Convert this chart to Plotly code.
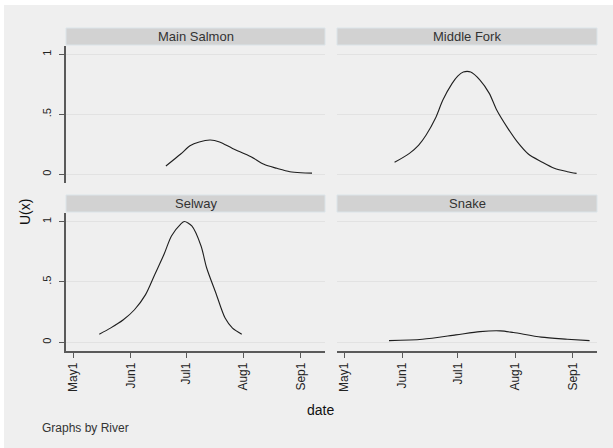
import datetime as dt
import plotly.graph_objects as go

# ---- data (days after May 1, value U(x)) ----
rivers = ["Main Salmon", "Middle Fork", "Selway", "Snake"]

main_salmon_days = [50, 58, 63, 68, 74, 79, 86, 96, 103, 110, 117, 123, 129]
main_salmon_u = [0.069, 0.169, 0.238, 0.270, 0.286, 0.270, 0.216, 0.147, 0.083, 0.050, 0.022, 0.013, 0.010]

middle_fork_days = [27, 35, 40, 44, 49, 53, 58, 61, 64, 68, 73, 78, 82, 88, 93, 99, 106, 113, 120, 125]
middle_fork_u = [0.100, 0.175, 0.244, 0.328, 0.467, 0.619, 0.758, 0.819, 0.853, 0.853, 0.786, 0.675,
                 0.536, 0.383, 0.272, 0.169, 0.105, 0.050, 0.022, 0.008]

selway_days = [14, 20, 27, 33, 39, 44, 49, 53, 58, 60, 64, 69, 72, 77, 82, 86, 91]
selway_u = [0.067, 0.117, 0.186, 0.269, 0.394, 0.561, 0.728, 0.880, 0.978, 1.000, 0.963, 0.797,
            0.617, 0.408, 0.200, 0.117, 0.067]

snake_days = [24, 42, 60, 73, 84, 91, 106, 120, 132]
snake_u = [0.013, 0.025, 0.061, 0.088, 0.094, 0.080, 0.042, 0.025, 0.013]

tick_dates = ["2001-05-01", "2001-06-01", "2001-07-01", "2001-08-01", "2001-09-01"]
tick_labels = ["May1", "Jun1", "Jul1", "Aug1", "Sep1"]
y_ticks = [0, 0.5, 1]
y_tick_labels = ["0", ".5", "1"]

base = dt.date(2001, 5, 1)
def to_dates(days):
    return [(base + dt.timedelta(days=d)).isoformat() for d in days]

series = [
    (main_salmon_days, main_salmon_u),
    (middle_fork_days, middle_fork_u),
    (selway_days, selway_u),
    (snake_days, snake_u),
]

W, H = 613, 448
def fx(p): return p / W
def fy(p): return 1 - p / H

BG = "#efefef"
GRID = "#e2e2e2"
AXIS = "#5a5a5a"
FONT = "Liberation Sans, Arial, sans-serif"

fig = go.Figure()

panels = [
    # (xdom px, ydom px (top,bottom), header px (top,bottom))
    ((66, 325), (46, 183), (28, 45)),
    ((337, 597), (46, 183), (28, 45)),
    ((66, 325), (213, 351), (195, 212)),
    ((337, 597), (213, 351), (195, 212)),
]

for i, ((d, u), name) in enumerate(zip(series, rivers)):
    k = i + 1
    fig.add_trace(go.Scatter(
        x=to_dates(d), y=u, mode="lines",
        line=dict(color="#1e1e1e", width=1.1, shape="spline", smoothing=0.8),
        xaxis=f"x{k}", yaxis=f"y{k}", showlegend=False, hoverinfo="skip"))

layout_axes = {}
for i, ((x0, x1), (yt, yb), (ht, hb)) in enumerate(panels):
    k = i + 1
    bottom = i >= 2
    left = i % 2 == 0
    xa = dict(
        domain=[fx(x0), fx(x1)], type="date",
        range=["2001-04-27", "2001-09-14"],
        anchor=f"y{k}", showgrid=False, zeroline=False,
        fixedrange=True, automargin=False,
    )
    if bottom:
        xa.update(showline=True, linecolor=AXIS, linewidth=1.5, ticks="outside",
                  ticklen=5, tickcolor=AXIS, tickwidth=1,
                  tickvals=tick_dates, ticktext=tick_labels, tickangle=-90,
                  tickfont=dict(family=FONT, size=12, color="#222"), showticklabels=True)
    else:
        xa.update(showline=False, showticklabels=False, ticks="")
    ya = dict(
        domain=[fy(yb), fy(yt)], range=[-0.0725, 1.07],
        anchor=f"x{k}", showgrid=True, gridcolor=GRID, gridwidth=1,
        zeroline=False, tickvals=y_ticks, ticktext=y_tick_labels,
        fixedrange=True, automargin=False,
    )
    if left:
        ya.update(showline=True, linecolor=AXIS, linewidth=1.5, ticks="outside",
                  ticklen=5, tickcolor=AXIS, tickwidth=1, tickangle=-90,
                  ticklabelstandoff=4,
                  tickfont=dict(family=FONT, size=11, color="#222"), showticklabels=True)
    else:
        ya.update(showline=False, ticks="", showticklabels=False)
    sfx = "" if k == 1 else str(k)
    layout_axes[f"xaxis{sfx}"] = xa
    layout_axes[f"yaxis{sfx}"] = ya

shapes = [dict(type="rect", xref="paper", yref="paper", x0=fx(4), x1=1.0, y0=0.0, y1=fy(5),
               fillcolor=BG, line=dict(width=0), layer="below")]
annotations = []
for i, ((x0, x1), (yt, yb), (ht, hb)) in enumerate(panels):
    shapes.append(dict(type="rect", xref="paper", yref="paper",
                       x0=fx(x0), x1=fx(x1), y0=fy(hb), y1=fy(ht),
                       fillcolor="#d2d2d2", line=dict(color="#dbe4e9", width=1), layer="below"))
    annotations.append(dict(text=rivers[i], xref="paper", yref="paper",
                            x=fx((x0 + x1) / 2), y=fy((ht + hb) / 2),
                            xanchor="center", yanchor="middle", showarrow=False,
                            font=dict(family=FONT, size=13, color="#333")))

annotations += [
    dict(text="U(x)", xref="paper", yref="paper", x=fx(25), y=fy(212), textangle=-90,
         xanchor="center", yanchor="middle", showarrow=False,
         font=dict(family=FONT, size=14, color="#111")),
    dict(text="date", xref="paper", yref="paper", x=fx(320), y=fy(410),
         xanchor="center", yanchor="middle", showarrow=False,
         font=dict(family=FONT, size=14, color="#111")),
    dict(text="Graphs by River", xref="paper", yref="paper", x=fx(40), y=fy(428),
         xanchor="left", yanchor="middle", showarrow=False,
         font=dict(family=FONT, size=12, color="#333")),
]

fig.update_layout(
    width=W, height=H, autosize=False,
    margin=dict(l=0, r=0, t=0, b=0),
    paper_bgcolor="white", plot_bgcolor="white",
    shapes=shapes, annotations=annotations,
    showlegend=False,
    **layout_axes,
)

fig.write_html("out.html", config={"displayModeBar": False},
               post_script="document.body.style.margin='0';document.body.style.padding='0';"
                           "document.body.style.overflow='hidden';")
